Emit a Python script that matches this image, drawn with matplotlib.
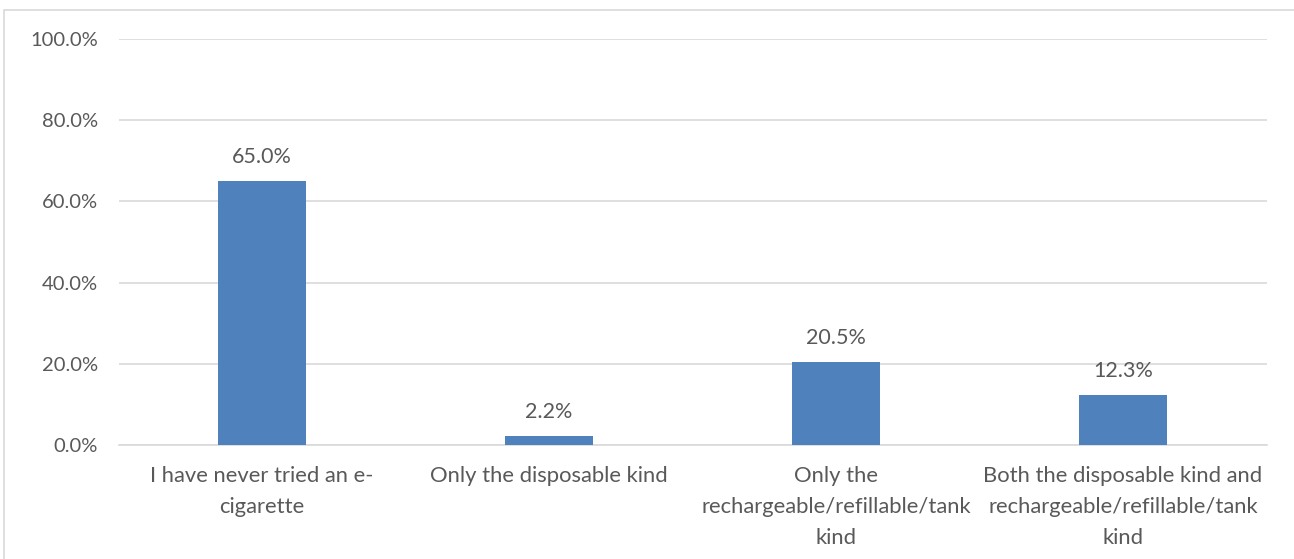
import matplotlib.pyplot as plt
from matplotlib.patches import Rectangle
from matplotlib.ticker import FuncFormatter

# categorias y valores (porcentaje)
categorias = [
    "I have never tried an e-\ncigarette",
    "Only the disposable kind",
    "Only the\nrechargeable/refillable/tank\nkind",
    "Both the disposable kind and\nrechargeable/refillable/tank\nkind",
]
valores = [65.0, 2.2, 20.5, 12.3]
ticks_y = [0, 20, 40, 60, 80, 100]

color_barra = "#4F81BD"
color_texto = "#595959"
color_grid = "#D9D9D9"

plt.rcParams["font.family"] = ["Lato", "DejaVu Sans"]

fig = plt.figure(figsize=(12.94, 5.59), dpi=100)
W, H = 1294, 559

# marco del grafico (recortado a la derecha y abajo)
fig.patches.append(Rectangle((4 / W, -0.1), 1.2, 1 - 10 / H + 0.1,
                             transform=fig.transFigure, fill=False,
                             edgecolor=color_grid, linewidth=1.2))

ax = fig.add_axes([118.5 / W, 1 - 445 / H, (1266.5 - 118.5) / W, (445 - 39) / H])

x = range(len(categorias))
barras = ax.bar(x, valores, width=0.31, color=color_barra, zorder=3)

for xi, v in zip(x, valores):
    ax.annotate(f"{v:.1f}%", (xi, v), xytext=(0, 10), textcoords="offset points",
                ha="center", va="bottom", fontsize=15.5, color=color_texto)

ax.set_xlim(-0.5, len(categorias) - 0.5)
ax.set_ylim(0, 100)
ax.set_yticks(ticks_y)
ax.yaxis.set_major_formatter(FuncFormatter(lambda v, p: f"{v:.1f}%"))
ax.set_xticks(list(x))
ax.set_xticklabels(categorias, fontsize=15.8, color=color_texto, linespacing=1.68)
ax.tick_params(axis="y", labelsize=14.5, labelcolor=color_texto, length=0, pad=15)
ax.tick_params(axis="x", length=0, pad=15)

ax.grid(axis="y", color=color_grid, linewidth=1.2, zorder=0)
for s in ["top", "right", "left"]:
    ax.spines[s].set_visible(False)
ax.spines["bottom"].set_color(color_grid)
ax.spines["bottom"].set_linewidth(1.2)

fig.savefig("out.png", dpi=100)
